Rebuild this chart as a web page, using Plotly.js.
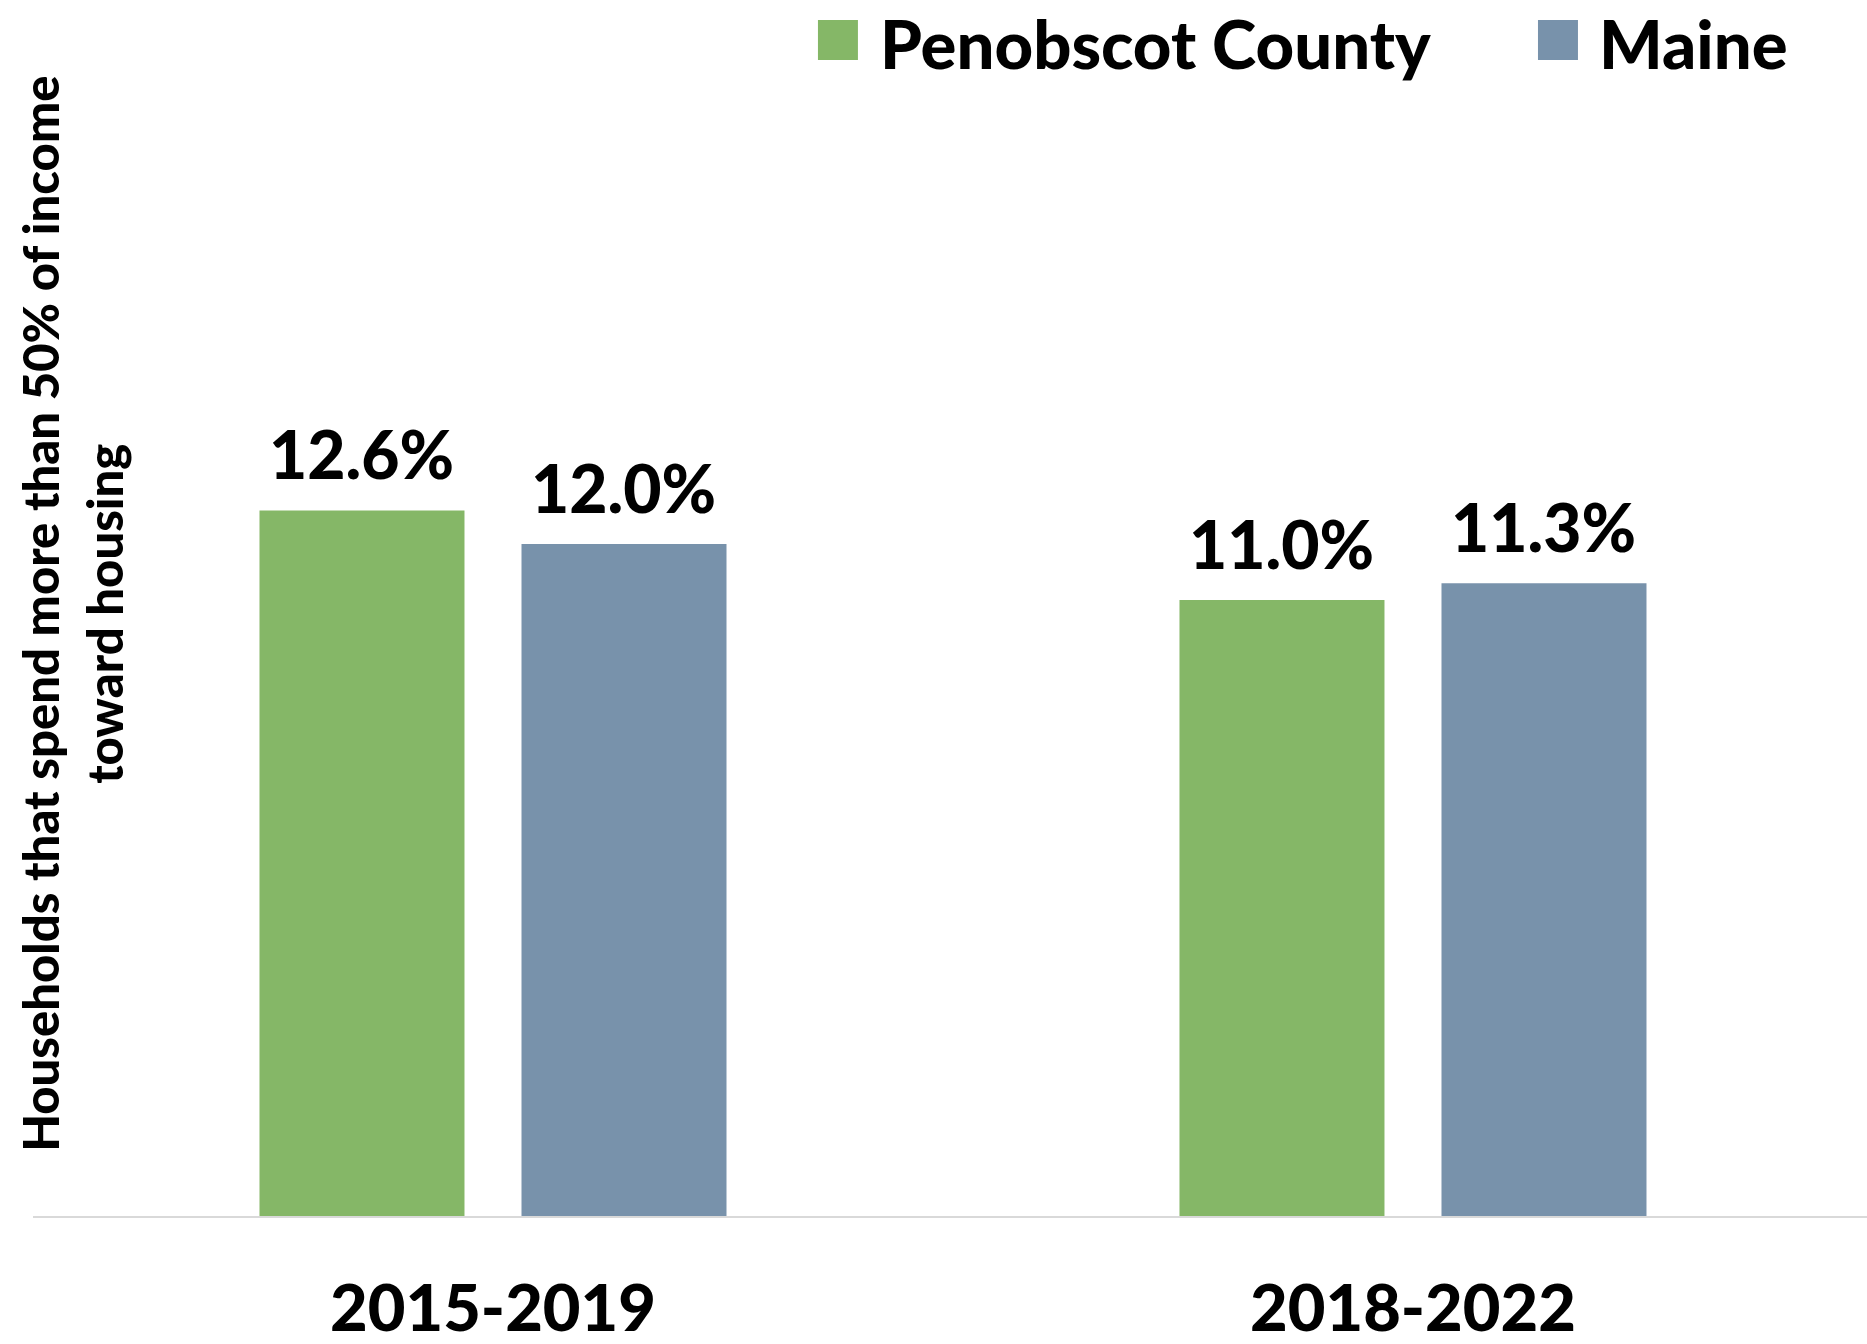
<!DOCTYPE html>
<html>
<head>
<meta charset="utf-8">
<script src="https://cdn.plot.ly/plotly-3.0.1.min.js"></script>
<style>html,body{margin:0;padding:0;background:#fff;}#chart{width:1867px;height:1344px;}</style>
</head>
<body>
<div id="chart"></div>
<script>
// ---- data ----
const categories = ['2015-2019', '2018-2022'];
const penobscotValues = [12.6, 11.0];
const maineValues = [12.0, 11.3];
const seriesNames = ['Penobscot County', 'Maine'];
const yTitle = 'Households that spend more than 50% of income<br>toward housing';

// ---- styles ----
const colors = ['#85B767', '#7892AB'];
const FONT = 'Lato, "Open Sans", sans-serif';
const W = 900;
const series = [penobscotValues, maineValues];

const traces = series.map((vals, i) => ({
  type: 'bar',
  name: seriesNames[i],
  x: categories,
  y: vals,
  marker: {color: colors[i]},
  hoverinfo: 'skip',
  showlegend: false
}));

// data labels (through data axes)
const slotHalfPx = 131;
const annotations = [];
series.forEach((vals, i) => {
  vals.forEach((v, j) => {
    annotations.push({
      xref: 'x', yref: 'y', x: categories[j], y: v,
      text: v.toFixed(1) + '%',
      showarrow: false, yanchor: 'bottom', xanchor: 'center',
      xshift: (i === 0 ? -1 : 1) * slotHalfPx, yshift: 15,
      font: {family: FONT, size: 66, color: '#000', weight: W}
    });
  });
});

// y-axis title
annotations.push({
  xref: 'paper', yref: 'paper', x: 0.0215, y: 0.538,
  xanchor: 'center', yanchor: 'middle', textangle: -90,
  text: yTitle, showarrow: false, align: 'center',
  font: {family: FONT, size: 49, color: '#000', weight: W}
});

// custom legend
const legendSquares = [[0.4280, 0.4498], [0.8206, 0.8424]];
const legendTextX = [0.4607, 0.8530];
const shapes = [];
seriesNames.forEach((n, i) => {
  shapes.push({
    type: 'rect', xref: 'paper', yref: 'paper',
    x0: legendSquares[i][0], x1: legendSquares[i][1], y0: 1.0321, y1: 1.0679,
    fillcolor: colors[i], line: {width: 0}
  });
  annotations.push({
    xref: 'paper', yref: 'paper', x: legendTextX[i], y: 1.047,
    xanchor: 'left', yanchor: 'middle', text: n, showarrow: false,
    font: {family: FONT, size: 67, color: '#000', weight: W}
  });
});

const layout = {
  width: 1867, height: 1344,
  margin: {l: 33, r: 0, t: 96, b: 128, pad: 0},
  paper_bgcolor: '#ffffff', plot_bgcolor: '#ffffff',
  barmode: 'group', bargap: 0.4304, bargroupgap: 0.2176,
  showlegend: false,
  font: {family: FONT, color: '#000'},
  xaxis: {
    type: 'category', range: [-0.5, 1.4935], fixedrange: true,
    showline: true, linecolor: '#d9d9d9', linewidth: 2,
    ticks: '', showgrid: false, zeroline: false,
    tickfont: {family: FONT, size: 65, color: '#000', weight: W},
    ticklabelstandoff: 35
  },
  yaxis: {
    range: [0, 20], visible: false, showgrid: false, zeroline: false, fixedrange: true
  },
  annotations: annotations,
  shapes: shapes
};

Plotly.newPlot('chart', traces, layout, {displayModeBar: false, staticPlot: true});
</script>
</body>
</html>
